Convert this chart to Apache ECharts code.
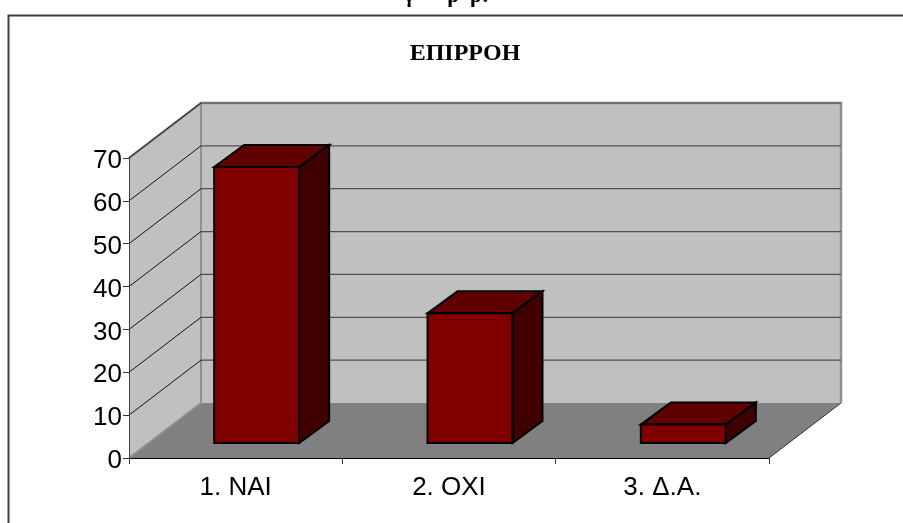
<!DOCTYPE html>
<html><head><meta charset="utf-8">
<style>html,body{margin:0;padding:0;background:#fff}#c{width:903px;height:523px}</style>
<script src="https://cdn.jsdelivr.net/npm/echarts@6/dist/echarts.min.js"></script>
</head><body><div id="c"></div>
<script>
const titleText = 'ΕΠΙΡΡΟΗ';
const clippedHeading = 'γ      ρ  ρ:';
const categories = ['1. ΝΑΙ', '2. ΟΧΙ', '3. Δ.Α.'];
const values = [64.4, 30.3, 4.3];
const gridTicks = [10, 20, 30, 40, 50, 60, 70];

const WALL_DX = 72, WALL_DY = 55;
const BAR_DX = 30, BAR_DY = 22, BAR_W = 85, BAR_SHIFT_X = 21, BAR_SHIFT_Y = 15;

const chart = echarts.init(document.getElementById('c'), null, {renderer: 'canvas'});

function poly(points, fill, stroke, lineWidth) {
  return {type: 'polygon', shape: {points}, style: {fill, stroke: stroke || 'none', lineWidth: lineWidth || 0}};
}
function edge(points, color, width) {
  return {type: 'polyline', shape: {points}, style: {fill: 'none', stroke: color, lineWidth: width}};
}

function renderWalls(params, api) {
  const b = params.coordSys;
  const L = b.x, R = b.x + b.width, T = b.y, B = b.y + b.height;
  const dx = WALL_DX, dy = WALL_DY;
  return {type: 'group', silent: true, children: [
    poly([[L + dx, T - dy], [R + dx, T - dy], [R + dx, B - dy], [L + dx, B - dy]], '#c0c0c0'),
    poly([[L, T], [L + dx, T - dy], [L + dx, B - dy], [L, B]], '#c0c0c0'),
    poly([[L, B], [L + dx, B - dy], [R + dx, B - dy], [R, B]], '#808080'),
    edge([[L, T], [L + dx, T - dy], [R + dx, T - dy], [R + dx, B - dy]], '#909090', 2.5),
    edge([[L + dx, T - dy], [L + dx, B - dy], [L, B]], '#909090', 2),
    edge([[R, B], [R + dx, B - dy]], '#303030', 1)
  ]};
}

function renderGrid(params, api) {
  const p = api.coord([0, api.value(1)]);
  const b = params.coordSys;
  const y = p[1], L = b.x, R = b.x + b.width;
  return {type: 'group', silent: true, children: [
    {type: 'line', shape: {x1: L, y1: y, x2: L + WALL_DX, y2: y - WALL_DY}, style: {stroke: '#111', lineWidth: 1}},
    {type: 'line', shape: {x1: L + WALL_DX, y1: y - WALL_DY, x2: R + WALL_DX, y2: y - WALL_DY}, style: {stroke: '#505050', lineWidth: 1.2}}
  ]};
}

function renderBar(params, api) {
  const top = api.coord([api.value(0), api.value(1)]);
  const base = api.coord([api.value(0), 0]);
  const x0 = top[0] + BAR_SHIFT_X - BAR_W / 2, x1 = x0 + BAR_W;
  const yT = top[1] - BAR_SHIFT_Y, yB = base[1] - BAR_SHIFT_Y;
  const dx = BAR_DX, dy = BAR_DY, s = '#000', w = 2;
  return {type: 'group', children: [
    poly([[x0, yT], [x1, yT], [x1 + dx, yT - dy], [x0 + dx, yT - dy]], '#600000', s, w),
    poly([[x1, yT], [x1 + dx, yT - dy], [x1 + dx, yB - dy], [x1, yB]], '#400000', s, w),
    poly([[x0, yT], [x1, yT], [x1, yB], [x0, yB]], '#800000', s, w)
  ]};
}

chart.setOption({
  animation: false,
  backgroundColor: '#fff',
  title: {
    text: titleText, left: 460, top: 37, textAlign: 'center',
    textStyle: {fontFamily: 'Liberation Serif', fontWeight: 'bold', fontSize: 24, color: '#000'}
  },
  graphic: [
    {type: 'text', left: 404, top: -15, z: 10, style: {text: clippedHeading, font: 'bold 22px "Liberation Serif"', fill: '#000'}},
    {type: 'rect', shape: {x: 8.5, y: 15.5, width: 1000, height: 600}, z: 20, silent: true, style: {fill: 'none', stroke: '#404040', lineWidth: 2}}
  ],
  grid: {left: 129, right: 134, top: 158, bottom: 65},
  xAxis: {
    type: 'category', data: categories,
    axisLine: {show: true, lineStyle: {color: '#000', width: 1}},
    axisTick: {show: true, alignWithLabel: false, length: 6, lineStyle: {color: '#333', width: 1}},
    axisLabel: {color: '#000', fontFamily: 'Liberation Sans', fontSize: 26, margin: 17}
  },
  yAxis: {
    type: 'value', min: 0, max: 70, interval: 10,
    splitLine: {show: false},
    axisLine: {show: true, lineStyle: {color: '#404040', width: 1}},
    axisTick: {show: true, length: 6, lineStyle: {color: '#333', width: 1}},
    axisLabel: {color: '#000', fontFamily: 'Liberation Sans', fontSize: 26, margin: 7, verticalAlign: 'top', lineHeight: 6}
  },
  series: [
    {type: 'custom', z: -2, silent: true, clip: false, renderItem: renderWalls, data: [[0, 0]], encode: {x: 0, y: 1}},
    {type: 'custom', z: -1, silent: true, clip: false, renderItem: renderGrid, data: gridTicks.map(t => [0, t]), encode: {x: 0, y: 1}},
    {type: 'custom', z: 6, clip: false, renderItem: renderBar, data: values.map((v, i) => [i, v]), encode: {x: 0, y: 1}}
  ]
});
</script></body></html>
